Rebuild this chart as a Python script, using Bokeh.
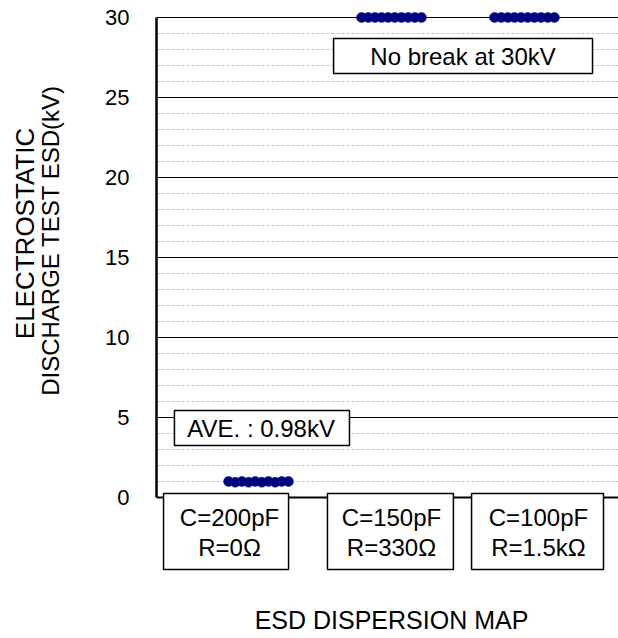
import math
from bokeh.plotting import figure
from bokeh.layouts import row
from bokeh.models import Range1d, FixedTicker, Span
from bokeh.core.properties import value
from bokeh.embed import file_html
from bokeh.resources import INLINE

# ---- data ----
cat_line1 = ["C=200pF", "C=150pF", "C=100pF"]
cat_line2 = ["R=0Ω", "R=330Ω", "R=1.5kΩ"]
esd_200pF = [1.0, 0.95, 1.0, 0.95, 1.0, 0.95, 1.0, 0.95, 1.0, 1.0]
esd_150pF = [30, 30, 30, 30, 30, 30, 30, 30, 30, 30]
esd_100pF = [30, 30, 30, 30, 30, 30, 30, 30, 30, 30]
y_ticks = [0, 5, 10, 15, 20, 25, 30]
y_minor = [v for v in range(0, 31) if v % 5]
avg_text = "AVE. : 0.98kV"
note_text = "No break at 30kV"
x_title = "ESD DISPERSION MAP"
y_title_1 = "ELECTROSTATIC"
y_title_2 = "DISCHARGE TEST ESD(kV)"

FONT = value("Liberation Sans")
W, H = 618, 638
LW = 70

# ---- left strip holding the two-line y title ----
lt = figure(width=LW, height=H, output_backend="svg", toolbar_location=None,
            x_range=Range1d(0, LW), y_range=Range1d(0, H),
            min_border_left=0, min_border_right=0, min_border_top=0, min_border_bottom=0)
lt.outline_line_color = None
lt.axis.visible = False
lt.grid.visible = False
lt.text(x=[24], y=[H - 233], text=[y_title_1], angle=math.pi / 2, text_font=FONT,
        text_font_size="26px", text_align="center", text_baseline="middle", text_color="black")
lt.text(x=[50], y=[H - 240], text=[y_title_2], angle=math.pi / 2, text_font=FONT,
        text_font_size="24px", text_align="center", text_baseline="middle", text_color="black")

# ---- main plot ----
p = figure(width=W - LW, height=H, output_backend="svg", toolbar_location=None,
           x_range=Range1d(0.2331, 3.7068), y_range=Range1d(-8.8125, 31.0625),
           min_border_left=156 - LW, min_border_right=0, min_border_top=0, min_border_bottom=0)
p.outline_line_color = None
p.background_fill_color = "white"
p.xaxis.visible = False
p.xgrid.visible = False

ax = p.yaxis[0]
ax.ticker = FixedTicker(ticks=y_ticks, minor_ticks=y_minor)
ax.bounds = (0, 30)
ax.axis_line_width = 2.5
ax.axis_line_color = "black"
ax.major_tick_in = 0
ax.major_tick_out = 0
ax.minor_tick_in = 0
ax.minor_tick_out = 0
ax.major_label_standoff = 27
ax.major_label_text_font = "Liberation Sans"
ax.major_label_text_font_size = "22px"
ax.major_label_text_color = "black"

g = p.ygrid[0]
g.grid_line_color = "black"
g.grid_line_width = 1
g.minor_grid_line_color = "#c4c4c4"
g.minor_grid_line_dash = "3 2"
g.minor_grid_line_width = 1

base = Span(location=0, dimension="width", line_color="black", line_width=2.2, level="underlay")
p.add_layout(base)

# ---- dots ----
series = [esd_200pF, esd_150pF, esd_100pF]
xs, ys = [], []
for ci, vals in enumerate(series):
    n = len(vals)
    for i, v in enumerate(vals):
        xs.append(ci + 1 + (i - (n - 1) / 2) * 0.05)
        ys.append(v)
p.scatter(xs, ys, size=10, fill_color="#000080", line_color="#000080", line_width=0.5)

# ---- category label boxes ----
box_x = [0.756, 1.992, 3.098]
box_w = [0.94, 0.947, 0.992]
p.rect(x=box_x, y=[-2.125] * 3, width=box_w, height=[4.75] * 3,
       fill_color="white", line_color="black", line_width=1.5)
txt_x = [0.782, 2.0, 3.105]
p.text(x=txt_x, y=[-1.22] * 3, text=cat_line1, text_font=FONT, text_font_size="24px",
       text_align="center", text_baseline="middle", text_color="black")
p.text(x=txt_x, y=[-3.13] * 3, text=cat_line2, text_font=FONT, text_font_size="24px",
       text_align="center", text_baseline="middle", text_color="black")

# ---- annotation boxes ----
p.rect(x=[2.538, 1.026], y=[27.594, 4.344], width=[1.947, 1.316], height=[2.1875, 2.1875],
       fill_color="white", line_color="black", line_width=1.5)
p.text(x=[2.538, 1.02], y=[27.58, 4.33], text=[note_text, avg_text], text_font=FONT,
       text_font_size="24px", text_align="center", text_baseline="middle", text_color="black")

# ---- x title ----
p.text(x=[2.0], y=[-7.66], text=[x_title], text_font=FONT, text_font_size="25px",
       text_align="center", text_baseline="middle", text_color="black")

layout = row(lt, p)
open("out.html", "w").write(file_html(layout, INLINE))
